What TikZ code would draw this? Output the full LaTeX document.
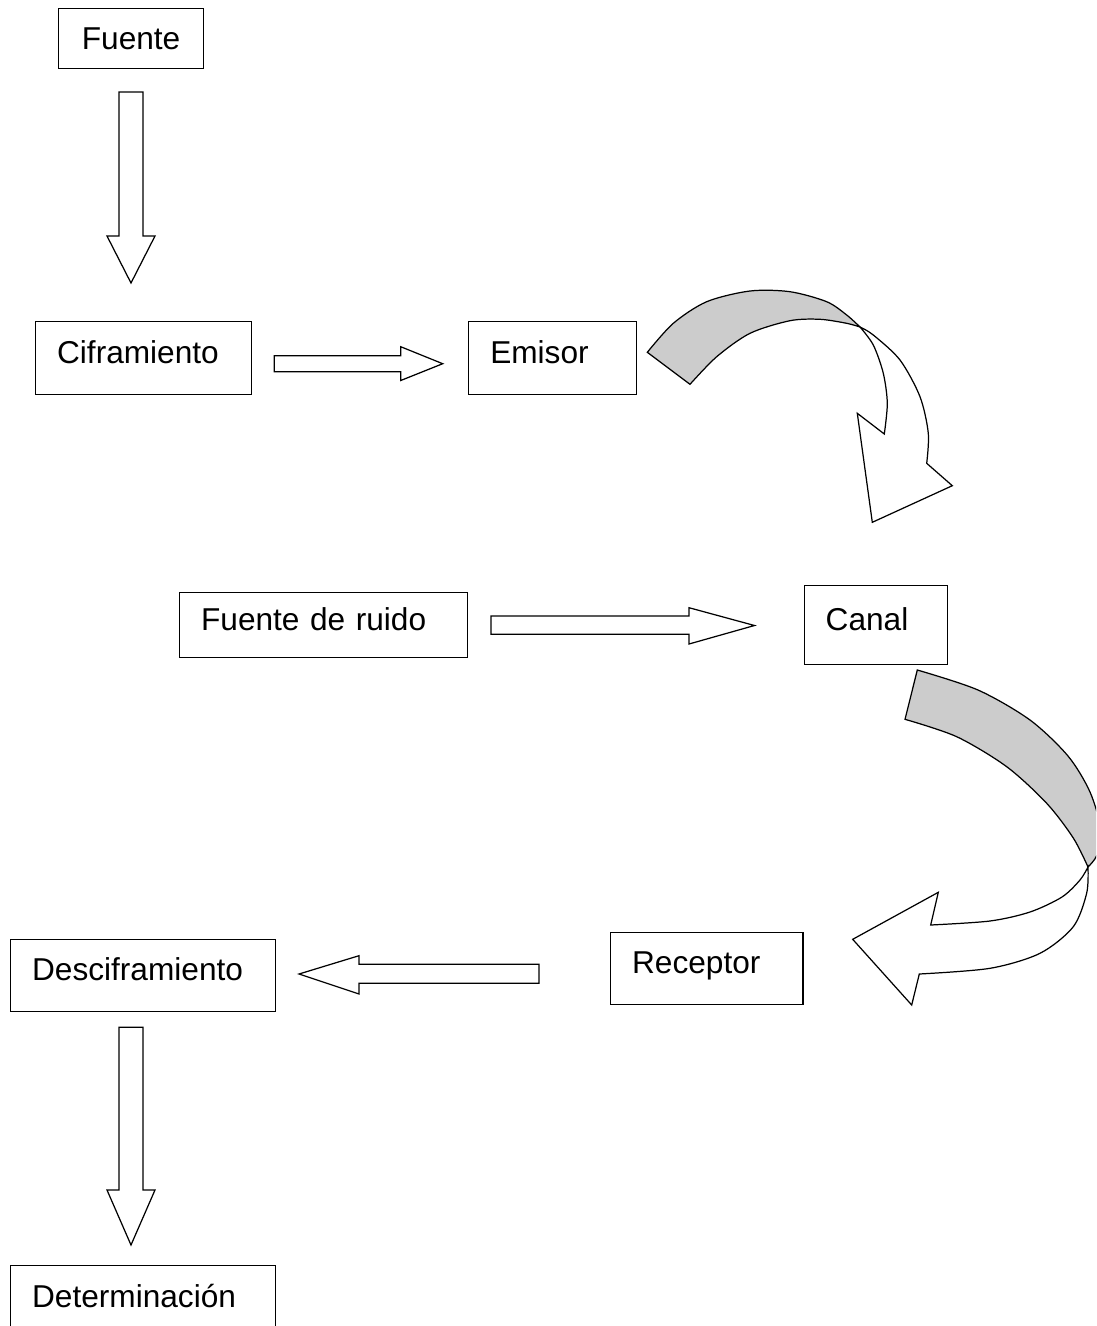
\documentclass[tikz,border=0pt]{standalone}
\usepackage{fontspec}
\setmainfont{Liberation Sans}
\usetikzlibrary{positioning}
\tikzset{box node/.style={draw, line width=0.7pt, anchor=north west, inner xsep=0.43cm, inner ysep=0pt, align=left, text height=13pt, text depth=7pt, font=\fontsize{18}{21.6}\selectfont},}
\tikzset{block arrow/.style={draw, fill=white, line width=0.7pt, line join=miter},}
\tikzset{twist band/.style={draw, fill=gray!40, line width=0.7pt, line join=miter},}

\begin{document}
\begin{tikzpicture}[x=0.02cm, y=-0.02cm]
     \useasboundingbox (0,0) rectangle (1096,1326);
     \clip (0,0) rectangle (1096,1326);

     \node[box node, align=center, text width=2.04cm, minimum height=1.2cm, text depth=0pt] (fuente) at (58,7.6) {Fuente};
     \node[box node, text width=3.46cm, minimum height=1.47cm] (cifr) at (35,320.5) {Ciframiento};
     \node[box node, text width=2.5cm, minimum height=1.47cm] (emisor) [right = 4.32cm of cifr] {Emisor};
     \node[box node, text width=4.9cm, minimum height=1.3cm] (ruido) at (179,592) {Fuente de ruido};
     \node[box node, text width=2.01cm, minimum height=1.58cm] (canal) [right = 6.71cm of ruido] {Canal};
     \node[box node, text width=2.99cm, minimum height=1.44cm] (receptor) at (610,932) {Receptor};
     \node[box node, text width=4.44cm, minimum height=1.44cm] (descifr) at (10,939) {Desciframiento};
     \node[box node, text width=4.44cm, minimum height=1.44cm] (determ) [below = 5.06cm of descifr] {Determinación};

     \draw[block arrow] (119,92) -- (143,92) -- (143,236) -- (155,236) -- (131,283) -- (107,236) -- (119,236) -- cycle;
     \draw[block arrow] (274.3,355.7) -- (400.7,355.7) -- (400.7,346.7) -- (442.7,363.7) -- (400.7,380.5) -- (400.7,371.7) -- (274.3,371.7) -- cycle;
     \draw[block arrow] (491,616) -- (689,616) -- (689,607.7) -- (754.5,625.5) -- (689,644) -- (689,634.3) -- (491,634.3) -- cycle;
     \draw[block arrow] (539,964.3) -- (359,964.3) -- (359,955.7) -- (299,974) -- (359,994) -- (359,983.3) -- (539,983.3) -- cycle;
     \draw[block arrow] (119,1027.3) -- (143,1027.3) -- (143,1190) -- (155,1190) -- (131,1245) -- (107,1190) -- (119,1190) -- cycle;

     \draw[twist band] plot[smooth] coordinates {(647.3,352.3) (673.3,323.3) (706.7,301.7) (750,291) (790,291.7) (826.7,301.7) (846.7,315) (860,327)}
       -- plot[smooth] coordinates {(860,327) (846.7,323.3) (820,319.3) (790,320.7) (750,333.3) (716.7,356.7) (690,384.3)} -- cycle;
     \draw[block arrow] plot[smooth] coordinates {(860,327) (873.3,335) (900,360) (920,396.7) (928.3,433.3) (926.7,463.3)}
       -- (952.3,485.7) -- (872.3,522.3) -- (857.3,413.3)
       -- plot[smooth] coordinates {(884.3,434) (887.3,403.3) (883.3,373.3) (873.3,345) (860,327)} -- cycle;

     \draw[twist band] plot[smooth] coordinates {(917.3,670) (978,690) (1030,720) (1068,756) (1090,792) (1101,830) (1097,855) (1088,867)}
       -- plot[smooth] coordinates {(1088,867) (1073.3,838) (1046.7,803.3) (1006.7,766.7) (956.7,736.7) (905,719.3)} -- cycle;
     \draw[block arrow] plot[smooth] coordinates {(1088,867) (1080,880) (1062,897) (1030,912) (990,921) (930.7,925)}
       -- (938.3,892.3) -- (852.7,939.3) -- (911.7,1005)
       -- plot[smooth] coordinates {(919.3,974) (990,968.3) (1040,953.3) (1073.3,926.7) (1086.7,893) (1088,867)} -- cycle;
\end{tikzpicture}
\end{document}
